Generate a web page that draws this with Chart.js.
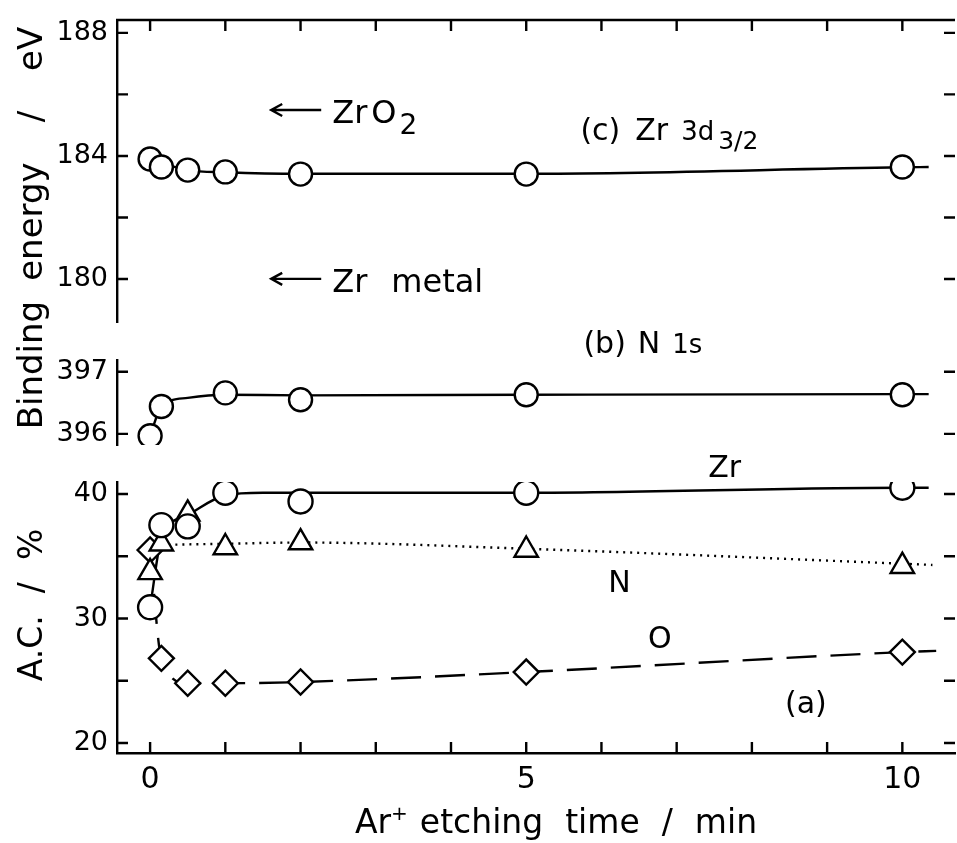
<!DOCTYPE html>
<html>
<head>
<meta charset="utf-8">
<script src="https://cdn.jsdelivr.net/npm/chart.js@4.4.1/dist/chart.umd.min.js"></script>
<style>
html, body { margin: 0; padding: 0; background: #fff; overflow: hidden; }
#wrap { position: relative; width: 957px; height: 843px; }
#wrap canvas { position: absolute; left: 0; top: 0; }
</style>
</head>
<body>
<div id="wrap">
  <canvas id="panelC" width="957" height="843"></canvas>
  <canvas id="panelB" width="957" height="843"></canvas>
  <canvas id="panelA" width="957" height="843"></canvas>
</div>
<script>
// etching time (min) of the measured points
const etchTime = [0, 0.15, 0.5, 1, 2, 5, 10];

// (c) Zr 3d3/2 binding energy / eV
const zr3dEnergy = [183.9, 183.64, 183.54, 183.48, 183.41, 183.41, 183.64];
const zr3dCurveTime = [0, 0.5, 1, 2, 5, 10, 10.35];
const zr3dCurve = [183.9, 183.54, 183.47, 183.42, 183.42, 183.63, 183.64];

// (b) N 1s binding energy / eV
const n1sTime = [0, 0.15, 1, 2, 5, 10];
const n1sEnergy = [395.97, 396.44, 396.66, 396.55, 396.63, 396.63];
const n1sCurveTime = [0, 0.15, 0.5, 1, 2, 5, 10, 10.35];
const n1sCurve = [395.97, 396.44, 396.58, 396.63, 396.62, 396.63, 396.64, 396.64];

// (a) atomic concentration / %
const zrConc = [30.9, 37.5, 37.4, 40.1, 39.4, 40.1, 40.5];
const nConc = [33.7, 36.0, 38.4, 35.7, 36.1, 35.5, 34.2];
const oConc = [35.5, 26.8, 24.8, 24.8, 24.9, 25.7, 27.3];
const zrCurveTime = [0, 0.15, 0.5, 1, 1.5, 2, 5, 10, 10.35];
const zrCurve = [30.9, 36.4, 38.3, 39.9, 40.1, 40.1, 40.1, 40.5, 40.5];
const nCurveTime = [0.15, 0.5, 1, 2, 5, 10, 10.4];
const nCurve = [35.9, 35.95, 36.0, 36.1, 35.6, 34.4, 34.3];
const oCurveTime = [0, 0.15, 0.5, 1, 2, 5, 10, 10.45];
const oCurve = [35.5, 26.8, 24.8, 24.8, 24.9, 25.7, 27.3, 27.4];

// ticks
const timeTicks = [0, 1, 2, 3, 4, 5, 6, 7, 8, 9, 10];
const timeLabels = [0, 5, 10];
const zr3dTicks = [180, 182, 184, 186, 188];
const zr3dLabels = [180, 184, 188];
const n1sTicks = [396, 397];
const n1sLabels = [396, 397];
const concTicks = [20, 25, 30, 35, 40];
const concLabels = [20, 30, 40];

const FONT = '"DejaVu Sans", sans-serif';
const TIME_MIN = -0.44, TIME_MAX = 10.7;
const LW = 2.4;

function pts(xs, ys){ return xs.map((x, i) => ({ x, y: ys[i] })); }

function markerSet(xs, ys, style, radius){
  return { data: pts(xs, ys), showLine: false, pointStyle: style, pointRadius: radius,
    pointBorderWidth: LW, pointBorderColor: '#000', pointBackgroundColor: '#fff', order: 0 };
}
function curveSet(xs, ys, dash){
  return { data: pts(xs, ys), showLine: true, pointRadius: 0, borderColor: '#000', borderWidth: LW,
    borderDash: dash || [], cubicInterpolationMode: 'monotone', fill: false, order: 1 };
}

function drawRuns(ctx, x, y, runs, align){
  let total = 0;
  runs.forEach(r => { ctx.font = `${r.size}px ${FONT}`; r._w = ctx.measureText(r.t).width; total += r._w + (r.gap || 0); });
  let cx = align === 'center' ? x - total / 2 : x;
  runs.forEach(r => {
    ctx.font = `${r.size}px ${FONT}`;
    ctx.fillText(r.t, cx, y + (r.dy || 0));
    cx += r._w + (r.gap || 0);
  });
}

// inward tick marks + top frame
const frame = {
  id: 'frame',
  afterDraw(chart, args, opts){
    const { ctx, chartArea: a, scales: { x, y } } = chart;
    const len = 11;
    ctx.save();
    ctx.strokeStyle = '#000';
    ctx.lineWidth = LW;
    ctx.beginPath();
    y.ticks.forEach(t => {
      const py = y.getPixelForValue(t.value);
      ctx.moveTo(a.left, py); ctx.lineTo(a.left + len, py);
      ctx.moveTo(a.right, py); ctx.lineTo(a.right - len, py);
    });
    if(opts.bottom){
      timeTicks.forEach(v => { const px = x.getPixelForValue(v); ctx.moveTo(px, a.bottom); ctx.lineTo(px, a.bottom - len); });
    }
    if(opts.top){
      ctx.moveTo(a.left - 1, a.top); ctx.lineTo(a.right, a.top);
      timeTicks.forEach(v => { const px = x.getPixelForValue(v); ctx.moveTo(px, a.top); ctx.lineTo(px, a.top + len); });
    }
    ctx.stroke();
    ctx.restore();
  }
};

// text labels placed in data coordinates, titles in pixels
const notes = {
  id: 'notes',
  afterDraw(chart, args, opts){
    const { ctx, scales: { x, y } } = chart;
    ctx.save();
    ctx.fillStyle = '#000';
    ctx.strokeStyle = '#000';
    ctx.textBaseline = 'alphabetic';
    (opts.items || []).forEach(n => {
      let px = x.getPixelForValue(n.x), py = y.getPixelForValue(n.y);
      if(n.arrow){
        const ay = py - 13;
        ctx.lineWidth = LW;
        ctx.beginPath();
        ctx.moveTo(px, ay); ctx.lineTo(px + 50, ay);
        ctx.moveTo(px + 11, ay - 6); ctx.lineTo(px, ay); ctx.lineTo(px + 11, ay + 6);
        ctx.stroke();
        px += 61;
      }
      drawRuns(ctx, px, py, n.runs);
    });
    (opts.titles || []).forEach(t => {
      ctx.save();
      ctx.translate(t.px, t.py);
      if(t.rotate) ctx.rotate(t.rotate);
      drawRuns(ctx, 0, 0, t.runs, 'center');
      ctx.restore();
    });
    ctx.restore();
  }
};

function noPadding(s){ s.paddingTop = s.paddingBottom = s.paddingLeft = s.paddingRight = 0; }

function xScale(show){
  return {
    type: 'linear', position: 'bottom', min: TIME_MIN, max: TIME_MAX, display: show,
    afterBuildTicks: s => { s.ticks = timeTicks.map(v => ({ value: v })); },
    afterFit: s => { s.height = show ? 90 : 0; noPadding(s); },
    grid: { display: false, drawTicks: false },
    border: { display: true, color: '#000', width: LW },
    ticks: { autoSkip: false, maxRotation: 0, padding: 9, color: '#000',
      font: { family: FONT, size: 30 },
      callback: v => timeLabels.includes(v) ? String(v) : '' }
  };
}

function yScale(min, max, ticks, labels){
  return {
    type: 'linear', position: 'left', min, max,
    afterBuildTicks: s => { s.ticks = ticks.map(v => ({ value: v })); },
    afterFit: s => { s.width = 117; noPadding(s); },
    grid: { display: false, drawTicks: false },
    border: { display: true, color: '#000', width: LW },
    ticks: { autoSkip: false, padding: 9, color: '#000',
      font: { family: FONT, size: 27 },
      callback: v => labels.includes(v) ? String(v) : '' }
  };
}

function makeChart(id, datasets, y, padding, showX, frameOpts, noteOpts){
  return new Chart(document.getElementById(id), {
    type: 'scatter',
    data: { datasets },
    options: {
      responsive: false, animation: false, events: [],
      layout: { padding, autoPadding: false },
      scales: { x: xScale(showX), y },
      plugins: { legend: { display: false }, tooltip: { enabled: false }, frame: frameOpts, notes: noteOpts }
    },
    plugins: [frame, notes]
  });
}

// (c) Zr 3d3/2
makeChart('panelC', [
  markerSet(etchTime, zr3dEnergy, 'circle', 11.5),
  curveSet(zr3dCurveTime, zr3dCurve)
], yScale(178.6, 188.42, zr3dTicks, zr3dLabels),
{ top: 20, bottom: 521, left: 0, right: 2 }, false, { top: true },
{ items: [
  { x: 1.61, y: 185.07, arrow: true, runs: [{ t: 'Zr', size: 32, gap: 4 }, { t: 'O', size: 32, gap: 3 }, { t: '2', size: 28, dy: 11 }] },
  { x: 1.61, y: 179.58, arrow: true, runs: [{ t: 'Zr', size: 32, gap: 24 }, { t: 'metal', size: 32 }] },
  { x: 5.72, y: 184.52, runs: [{ t: '(c)', size: 30, gap: 15 }, { t: 'Zr', size: 30, gap: 13 }, { t: '3d', size: 26, gap: 4 }, { t: '3/2', size: 25, dy: 9 }] }
] });

// (b) N 1s
makeChart('panelB', [
  markerSet(n1sTime, n1sEnergy, 'circle', 11.5),
  curveSet(n1sCurveTime, n1sCurve)
], yScale(395.82, 397.19, n1sTicks, n1sLabels),
{ top: 360, bottom: 398, left: 0, right: 2 }, false, {},
{ items: [
  { x: 5.76, y: 397.31, runs: [{ t: '(b)', size: 30, gap: 12 }, { t: 'N', size: 30, gap: 12 }, { t: '1s', size: 26 }] }
] });

// (a) atomic concentration
makeChart('panelA', [
  markerSet(etchTime, zrConc, 'circle', 12),
  markerSet(etchTime, nConc, 'triangle', 13.5),
  markerSet(etchTime, oConc, 'rectRot', 12.5),
  curveSet(zrCurveTime, zrCurve),
  curveSet(nCurveTime, nCurve, [2, 5]),
  curveSet(oCurveTime, oCurve, [30, 14])
], yScale(19.2, 40.96, concTicks, concLabels),
{ top: 482, bottom: 0, left: 0, right: 2 }, true, { bottom: true },
{ items: [
  { x: 7.42, y: 41.37, runs: [{ t: 'Zr', size: 30 }] },
  { x: 6.09, y: 32.13, runs: [{ t: 'N', size: 30 }] },
  { x: 6.62, y: 27.63, runs: [{ t: 'O', size: 30 }] },
  { x: 8.44, y: 22.41, runs: [{ t: '(a)', size: 30 }] }
], titles: [
  { px: 556, py: 833, runs: [{ t: 'Ar', size: 33 }, { t: '+', size: 20, dy: -13, gap: 12 }, { t: 'etching', size: 33, gap: 22 }, { t: 'time', size: 33, gap: 22 }, { t: '/', size: 33, gap: 22 }, { t: 'min', size: 33 }] },
  { px: 42, py: 228, rotate: -Math.PI / 2, runs: [{ t: 'Binding', size: 34, gap: 20 }, { t: 'energy', size: 34, gap: 40 }, { t: '/', size: 34, gap: 40 }, { t: 'eV', size: 34 }] },
  { px: 42, py: 605, rotate: -Math.PI / 2, runs: [{ t: 'A.C.', size: 33, gap: 22 }, { t: '/', size: 33, gap: 22 }, { t: '%', size: 33 }] }
] });
</script>
</body>
</html>
